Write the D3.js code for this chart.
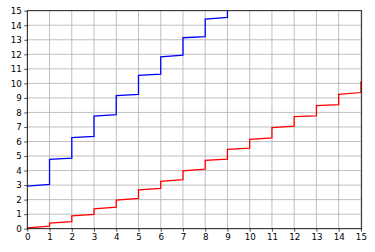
<!DOCTYPE html>
<html>
<head>
<meta charset="utf-8">
<script src="https://cdn.jsdelivr.net/npm/d3@7"></script>
<style>
  body { margin: 0; background: #fff; }
  svg { display: block; }
  .axis text { font-family: "DejaVu Sans", sans-serif; font-size: 8.7px; fill: #000; }
  .axis path { display: none; }
  .axis line { stroke: #000; stroke-width: 0.7; }
</style>
</head>
<body>
<div id="chart-area"></div>
<script>
// step values per unit interval [i, i+1]
var xTicks = d3.range(0, 16);
var yTicks = d3.range(0, 16);

var blueStart = [2.93, 4.77, 6.26, 7.75, 9.15, 10.55, 11.83, 13.14, 14.43, 15.75];
var blueEnd   = [3.05, 4.86, 6.35, 7.84, 9.24, 10.64, 11.95, 13.21, 14.54, 15.85];

var redStart = [0.06, 0.39, 0.88, 1.37, 1.97, 2.67, 3.26, 3.98, 4.71, 5.46, 6.15, 6.95, 7.71, 8.47, 9.24, 10.08];
var redEnd   = [0.17, 0.48, 0.98, 1.48, 2.08, 2.78, 3.37, 4.09, 4.79, 5.55, 6.25, 7.05, 7.77, 8.54, 9.37, 10.2];

var margin = {top: 10.7, right: 13.3, bottom: 23.3, left: 27.3};
var width = 375 - margin.left - margin.right;
var height = 252 - margin.top - margin.bottom;

var svg = d3.select("#chart-area").append("svg")
	.attr("width", 375)
	.attr("height", 252);

var g = svg.append("g")
	.attr("transform", "translate(" + margin.left + ", " + margin.top + ")");

var x = d3.scaleLinear().domain([0, 15]).range([0, width - 0.8]);
var y = d3.scaleLinear().domain([0, 15]).range([height, 0]);

// grid
g.append("g").selectAll("line").data(xTicks).enter().append("line")
	.attr("x1", (d) => x(d)).attr("x2", (d) => x(d))
	.attr("y1", 0).attr("y2", height)
	.attr("stroke", "#b0b0b0").attr("stroke-width", 0.8);
g.append("g").selectAll("line").data(yTicks).enter().append("line")
	.attr("y1", (d) => y(d)).attr("y2", (d) => y(d))
	.attr("x1", 0).attr("x2", width)
	.attr("stroke", "#b0b0b0").attr("stroke-width", 0.8);

g.append("clipPath").attr("id", "clip")
	.append("rect").attr("width", width).attr("height", height);

function toPoints(starts, ends) {
	var pts = [];
	starts.forEach((s, i) => {
		pts.push([i, s]);
		pts.push([i + 1, ends[i]]);
	});
	return pts;
}

var line = d3.line().x((d) => x(d[0])).y((d) => y(d[1]));

g.append("path")
	.datum(toPoints(blueStart, blueEnd))
	.attr("clip-path", "url(#clip)")
	.attr("d", line)
	.attr("fill", "none")
	.attr("stroke", "#0000ff")
	.attr("stroke-width", 1.3);

g.append("path")
	.datum(toPoints(redStart, redEnd))
	.attr("clip-path", "url(#clip)")
	.attr("d", line)
	.attr("fill", "none")
	.attr("stroke", "#ff0000")
	.attr("stroke-width", 1.3);

g.append("g")
	.attr("class", "axis")
	.attr("transform", "translate(0, " + height + ")")
	.call(d3.axisBottom(x).tickValues(xTicks).tickSize(3).tickPadding(2.5).tickFormat(d3.format("d")));

g.append("g")
	.attr("class", "axis")
	.call(d3.axisLeft(y).tickValues(yTicks).tickSize(3).tickPadding(2.5).tickFormat(d3.format("d")));

g.append("rect")
	.attr("width", width)
	.attr("height", height)
	.attr("fill", "none")
	.attr("stroke", "#000")
	.attr("stroke-width", 0.8);
</script>
</body>
</html>
